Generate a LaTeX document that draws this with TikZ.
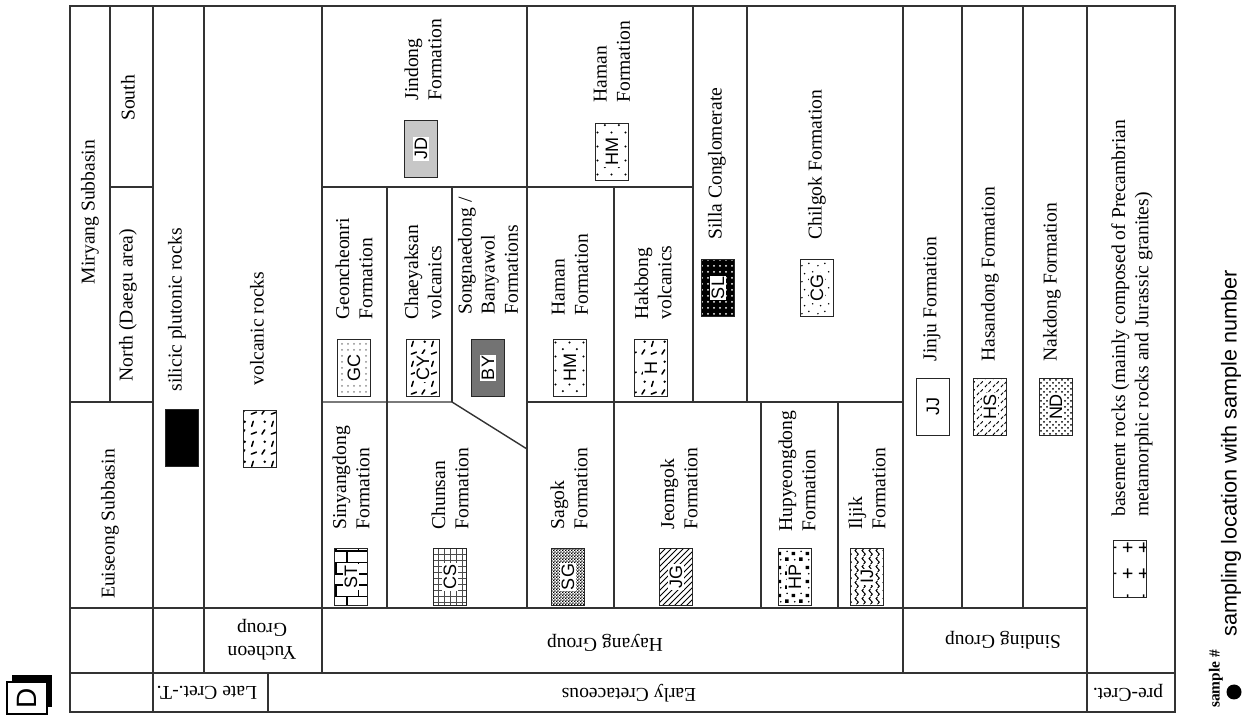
\documentclass[tikz,border=0pt]{standalone}
\usepackage{fontspec}
\setmainfont{Liberation Serif}
\newfontfamily\codefont{Liberation Sans}
\usetikzlibrary{patterns}

% extra fills for the sample boxes
\pgfdeclarepatternformonly{volcanic}{\pgfqpoint{0pt}{0pt}}{\pgfqpoint{10pt}{10pt}}{\pgfqpoint{10pt}{10pt}}{%
  \pgfsetlinewidth{0.8pt}%
  \pgfsetroundcap
  \pgfpathmoveto{\pgfqpoint{1pt}{1pt}}\pgfpathlineto{\pgfqpoint{2.4pt}{3.2pt}}%
  \pgfpathmoveto{\pgfqpoint{6pt}{5pt}}\pgfpathlineto{\pgfqpoint{6.8pt}{7.6pt}}%
  \pgfpathmoveto{\pgfqpoint{5.8pt}{1pt}}\pgfpathlineto{\pgfqpoint{8.4pt}{2pt}}%
  \pgfusepath{stroke}%
  \pgfpathcircle{\pgfqpoint{2.4pt}{7.4pt}}{0.7pt}%
  \pgfusepath{fill}}
\pgfdeclarepatternformonly{sparsedots}{\pgfqpoint{0pt}{0pt}}{\pgfqpoint{7pt}{7pt}}{\pgfqpoint{7pt}{7pt}}{%
  \pgfpathcircle{\pgfqpoint{1.5pt}{1.5pt}}{0.6pt}%
  \pgfpathcircle{\pgfqpoint{5pt}{5pt}}{0.6pt}%
  \pgfusepath{fill}}
\pgfdeclarepatternformonly{sand}{\pgfqpoint{0pt}{0pt}}{\pgfqpoint{8pt}{8pt}}{\pgfqpoint{8pt}{8pt}}{%
  \pgfpathcircle{\pgfqpoint{1pt}{1.2pt}}{0.45pt}%
  \pgfpathcircle{\pgfqpoint{4.6pt}{2.4pt}}{0.45pt}%
  \pgfpathcircle{\pgfqpoint{2.4pt}{5.4pt}}{0.45pt}%
  \pgfpathcircle{\pgfqpoint{6.6pt}{6.4pt}}{0.45pt}%
  \pgfusepath{fill}}
\pgfdeclarepatternformonly{finechecker}{\pgfqpoint{0pt}{0pt}}{\pgfqpoint{1.6pt}{1.6pt}}{\pgfqpoint{1.6pt}{1.6pt}}{%
  \pgfpathrectangle{\pgfqpoint{0pt}{0pt}}{\pgfqpoint{0.8pt}{0.8pt}}%
  \pgfpathrectangle{\pgfqpoint{0.8pt}{0.8pt}}{\pgfqpoint{0.8pt}{0.8pt}}%
  \pgfusepath{fill}}
\pgfdeclarepatternformonly{blocks}{\pgfqpoint{0pt}{0pt}}{\pgfqpoint{7pt}{7pt}}{\pgfqpoint{7pt}{7pt}}{%
  \pgfpathrectangle{\pgfqpoint{0.6pt}{0.6pt}}{\pgfqpoint{1.8pt}{1.8pt}}%
  \pgfpathrectangle{\pgfqpoint{4pt}{3.6pt}}{\pgfqpoint{1.8pt}{1.8pt}}%
  \pgfpathcircle{\pgfqpoint{1.6pt}{5.6pt}}{0.45pt}%
  \pgfpathcircle{\pgfqpoint{5.6pt}{1.2pt}}{0.45pt}%
  \pgfusepath{fill}}
\pgfdeclarepatternformonly{wavy}{\pgfqpoint{0pt}{0pt}}{\pgfqpoint{3.5pt}{4pt}}{\pgfqpoint{3.5pt}{4pt}}{%
  \pgfsetlinewidth{0.55pt}%
  \pgfpathmoveto{\pgfqpoint{1.5pt}{0pt}}%
  \pgfpathcurveto{\pgfqpoint{2.7pt}{0.7pt}}{\pgfqpoint{2.7pt}{1.3pt}}{\pgfqpoint{1.5pt}{2pt}}%
  \pgfpathcurveto{\pgfqpoint{0.3pt}{2.7pt}}{\pgfqpoint{0.3pt}{3.3pt}}{\pgfqpoint{1.5pt}{4pt}}%
  \pgfusepath{stroke}}
\pgfdeclarepatternformonly{dashes}{\pgfqpoint{0pt}{0pt}}{\pgfqpoint{4pt}{4pt}}{\pgfqpoint{4pt}{4pt}}{%
  \pgfsetlinewidth{0.5pt}%
  \pgfpathmoveto{\pgfqpoint{0.5pt}{0.5pt}}\pgfpathlineto{\pgfqpoint{1.7pt}{1.9pt}}%
  \pgfpathmoveto{\pgfqpoint{2.5pt}{2.3pt}}\pgfpathlineto{\pgfqpoint{3.7pt}{3.7pt}}%
  \pgfusepath{stroke}}
\pgfdeclarepatternformonly{plus}{\pgfqpoint{0pt}{0pt}}{\pgfqpoint{8pt}{13pt}}{\pgfqpoint{8pt}{13pt}}{%
  \pgfsetlinewidth{0.8pt}%
  \pgfpathmoveto{\pgfqpoint{1.5pt}{6.5pt}}\pgfpathlineto{\pgfqpoint{6.5pt}{6.5pt}}%
  \pgfpathmoveto{\pgfqpoint{4pt}{4pt}}\pgfpathlineto{\pgfqpoint{4pt}{9pt}}%
  \pgfusepath{stroke}}

\newcommand{\samplecode}[1]{{\setlength{\fboxsep}{0.7pt}\colorbox{white}{#1}}}

\begin{document}
\begin{tikzpicture}[x=0.5pt, y=-0.5pt,
    tableline/.style={draw=black!80, line width=0.7pt},
    unitlabel/.style={rotate=90, align=left, inner sep=0pt, font=\fontsize{9.8}{11.6}\selectfont},
    grouplabel/.style={rotate=180, align=center, inner sep=0pt, font=\fontsize{9.8}{11.6}\selectfont},
    samplebox/.style={draw=black!85, line width=0.6pt, rotate=90, minimum width=28.5pt,
        minimum height=16.5pt, inner sep=0pt, font=\codefont\fontsize{9}{9}\selectfont}]
    \useasboundingbox (0,0) rectangle (1244,716);

    % Draw the table frame
    \draw[tableline] (70,6) rectangle (1175,712);

    % Draw column borders
    \draw[tableline] (110,6) -- (110,402);
    \draw[tableline] (153,6) -- (153,712);
    \draw[tableline] (204,6) -- (204,673);
    \draw[tableline] (268,673) -- (268,712);
    \draw[tableline] (322,6) -- (322,673);
    \draw[tableline] (387,187) -- (387,608);
    \draw[tableline] (452,187) -- (452,402);
    \draw[tableline] (527,6) -- (527,608);
    \draw[tableline] (614,187) -- (614,608);
    \draw[tableline] (693,6) -- (693,402);
    \draw[tableline] (747,6) -- (747,402);
    \draw[tableline] (761,402) -- (761,608);
    \draw[tableline] (838,402) -- (838,608);
    \draw[tableline] (903,6) -- (903,673);
    \draw[tableline] (962,6) -- (962,608);
    \draw[tableline] (1023,6) -- (1023,608);
    \draw[tableline] (1087,6) -- (1087,712);

    % Draw row borders
    \draw[tableline] (110,187) -- (153,187);
    \draw[tableline] (322,187) -- (693,187);
    \draw[tableline] (70,402) -- (153,402);
    \draw[tableline] (322,402) -- (452,402) -- (527,449);
    \draw[tableline] (527,402) -- (903,402);
    \draw[tableline] (70,608) -- (1087,608);
    \draw[tableline] (70,673) -- (1175,673);

    % Subbasins
    \node[unitlabel] (miryang) at (90,212) {Miryang Subbasin};
    \node[unitlabel] (south) at (128,98) {South};
    \node[unitlabel] (north) at (128,305) {North (Daegu area)};
    \node[unitlabel] (euiseong) at (110,524) {Euiseong Subbasin};

    % Formations
    \node[unitlabel, anchor=west] (silicic) at (177,392) {silicic plutonic rocks};
    \node[unitlabel, anchor=west] (volcanic) at (257,386) {volcanic rocks};
    \node[unitlabel, anchor=west] (jindong) at (423,101) {Jindong\\ Formation};
    \node[unitlabel, anchor=west] (hamanup) at (612,103) {Haman\\ Formation};
    \node[unitlabel, anchor=west] (geoncheonri) at (354,320) {Geoncheonri\\ Formation};
    \node[unitlabel, anchor=west] (chaeyaksan) at (423,320) {Chaeyaksan\\ volcanics};
    \node[unitlabel, anchor=west] (songnaedong) at (488,315) {Songnaedong /\\ Banyawol\\ Formations};
    \node[unitlabel, anchor=west] (hamanlow) at (570,316) {Haman\\ Formation};
    \node[unitlabel, anchor=west] (hakbong) at (653,320) {Hakbong\\ volcanics};
    \node[unitlabel, anchor=west] (silla) at (717,240) {Silla Conglomerate};
    \node[unitlabel, anchor=west] (chilgok) at (817,240) {Chilgok Formation};
    \node[unitlabel, anchor=west] (sinyangdong) at (351,530) {Sinyangdong\\ Formation};
    \node[unitlabel, anchor=west] (chunsan) at (450,530) {Chunsan\\ Formation};
    \node[unitlabel, anchor=west] (sagok) at (569,530) {Sagok\\ Formation};
    \node[unitlabel, anchor=west] (jeomgok) at (679,530) {Jeomgok\\ Formation};
    \node[unitlabel, anchor=west] (hupyeongdong) at (797,532) {Hupyeongdong\\ Formation};
    \node[unitlabel, anchor=west] (iljik) at (867,530) {Iljik\\ Formation};
    \node[unitlabel, anchor=west] (jinju) at (932,362) {Jinju Formation};
    \node[unitlabel, anchor=west] (hasandong) at (990,362) {Hasandong Formation};
    \node[unitlabel, anchor=west] (nakdong) at (1052,362) {Nakdong Formation};
    \node[unitlabel, anchor=west] (basement) at (1132,517)
        {basement rocks (mainly composed of Precambrian\\ metamorphic rocks and Jurassic granites)};

    % Groups and periods
    \node[grouplabel] (yucheon) at (262,640) {Yucheon\\ Group};
    \node[grouplabel] (hayang) at (605,643) {Hayang Group};
    \node[grouplabel] (sinding) at (1003,640) {Sinding Group};
    \node[grouplabel] (latecret) at (207,693) {Late Cret.-T.};
    \node[grouplabel] (earlycret) at (629,693) {Early Cretaceous};
    \node[grouplabel] (precret) at (1128,693) {pre-Cret.};

    % Sample boxes
    \node[samplebox, fill=black] (sSI) at (182,438) {};
    \node[samplebox, pattern=volcanic] (sVR) at (260,439) {};
    \node[samplebox, fill=black!22] (sJD) at (421,149) {\samplecode{JD}};
    \node[samplebox, pattern=sparsedots] (sHMup) at (612,152) {\samplecode{HM}};
    \node[samplebox, pattern=dots, pattern color=black!45] (sGC) at (354,368) {\samplecode{GC}};
    \node[samplebox, pattern=volcanic] (sCY) at (423,368) {\samplecode{CY}};
    \node[samplebox, fill=black!55] (sBY) at (488,368) {\samplecode{BY}};
    \node[samplebox, pattern=sparsedots] (sHMlow) at (570,368) {\samplecode{HM}};
    \node[samplebox, pattern=volcanic] (sHB) at (651,368) {\samplecode{H}};
    \node[samplebox, preaction={fill=black}, pattern=dots, pattern color=white] (sSL) at (718,288) {\samplecode{SL}};
    \node[samplebox, pattern=sand] (sCG) at (817,288) {\samplecode{CG}};
    \node[samplebox, pattern=bricks] (sST) at (351,577) {\samplecode{ST}};
    \node[samplebox, pattern=grid, pattern color=black!70] (sCS) at (450,577) {\samplecode{CS}};
    \node[samplebox, pattern=finechecker] (sSG) at (568,577) {\samplecode{SG}};
    \node[samplebox, pattern=north east lines] (sJG) at (676,577) {\samplecode{JG}};
    \node[samplebox, pattern=blocks] (sHP) at (795,577) {\samplecode{HP}};
    \node[samplebox, pattern=wavy] (sIJ) at (867,577) {\samplecode{IJ}};
    \node[samplebox] (sJJ) at (933,407) {\samplecode{JJ}};
    \node[samplebox, pattern=dashes] (sHS) at (990,407) {\samplecode{HS}};
    \node[samplebox, pattern=crosshatch dots] (sND) at (1056,407) {\samplecode{ND}};
    \node[samplebox, pattern=plus] (sBM) at (1130,569) {};

    % Legend
    \node[circle, fill=black, inner sep=0pt, minimum size=7.5pt] (legenddot) at (1234,692) {};
    \node[rotate=90, inner sep=0pt, font=\bfseries\fontsize{7.7}{8}\selectfont] (legendkey) at (1216,679) {sample \#};
    \node[rotate=90, anchor=west, inner sep=0pt, font=\codefont\fontsize{10.8}{12}\selectfont] (legendtext)
        at (1231,637) {sampling location with sample number};

    % Panel letter
    \node[fill=black, minimum width=20pt, minimum height=16pt, inner sep=0pt] (panelshadow) at (32,691) {};
    \node[draw, fill=white, line width=0.6pt, minimum width=20pt, minimum height=16pt, inner sep=0pt,
        font=\codefont\fontsize{14}{14}\selectfont] (panel) at (27,698) {\rotatebox{90}{D}};
\end{tikzpicture}
\end{document}
